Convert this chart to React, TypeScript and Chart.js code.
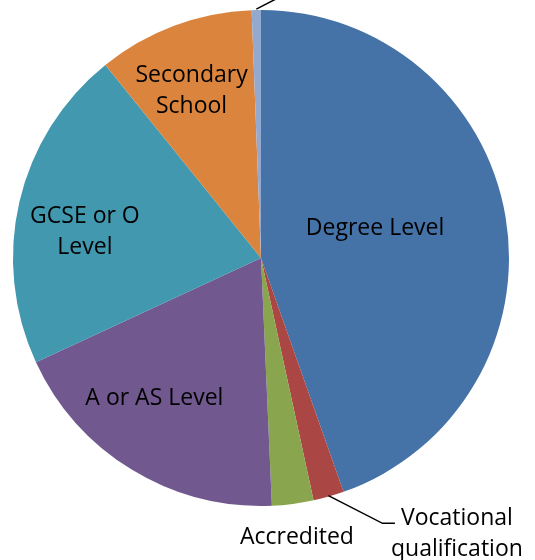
import React, { useEffect, useRef } from "react";
import { Chart, registerables } from "chart.js";

Chart.register(...registerables);

const categories = [
  "Degree Level",
  "Vocational qualification",
  "Accredited",
  "A or AS Level",
  "GCSE or O Level",
  "Secondary School",
  "Other",
];
const values = [44.6, 2.0, 2.7, 18.8, 21.1, 10.2, 0.6];
const colors = ["#4572A7", "#AA4643", "#89A54E", "#71588F", "#4198AF", "#DB843D", "#93A9CF"];

// label text lines per slice (empty = no label shown)
const labelLines: string[][] = [
  ["Degree Level"],
  ["Vocational", "qualification"],
  ["Accredited"],
  ["A or AS Level"],
  ["GCSE or O", "Level"],
  ["Secondary", "School"],
  [],
];

// label layout, in units of the pie radius relative to its centre
const labelLayout = [
  { x: 0.46, y: -0.12 },
  { x: 0.79, y: 1.113 },
  { x: 0.145, y: 1.128 },
  { x: -0.43, y: 0.568 },
  { x: -0.71, y: -0.105 },
  { x: -0.28, y: -0.674 },
  { x: 0, y: 0 },
];

const labelPlugin = {
  id: "sliceLabels",
  afterDatasetsDraw(chart: any) {
    const ctx = chart.ctx;
    const meta = chart.getDatasetMeta(0);
    const arcs = meta.data;
    if (!arcs.length) return;
    const cx = arcs[0].x;
    const cy = arcs[0].y;
    const r = arcs[0].outerRadius;
    ctx.save();
    ctx.fillStyle = "#000";
    ctx.font = '23px "Open Sans", sans-serif';
    ctx.textAlign = "center";
    ctx.textBaseline = "middle";
    const lh = 31.5;
    labelLines.forEach((lines, i) => {
      if (!lines.length) return;
      const lx = cx + labelLayout[i].x * r;
      const ly = cy + labelLayout[i].y * r;
      const start = ly - ((lines.length - 1) * lh) / 2;
      lines.forEach((t, k) => ctx.fillText(t, lx, start + k * lh));
    });
    // leader lines
    ctx.strokeStyle = "#000";
    ctx.lineWidth = 1.5;
    const mid = (a: any) => (a.startAngle + a.endAngle) / 2;
    // vocational
    const v = arcs[1];
    const va = mid(v);
    ctx.beginPath();
    ctx.moveTo(cx + Math.cos(va) * (r - 1), cy + Math.sin(va) * (r - 1));
    ctx.lineTo(cx + 0.49 * r, cy + 1.07 * r);
    ctx.lineTo(cx + 0.54 * r, cy + 1.07 * r);
    ctx.stroke();
    // tiny slice leader going off the top
    const o = arcs[6];
    const oa = mid(o);
    ctx.beginPath();
    ctx.moveTo(cx + Math.cos(oa) * (r + 1), cy + Math.sin(oa) * (r + 1));
    ctx.lineTo(cx + 0.13 * r, cy - 1.08 * r);
    ctx.stroke();
    ctx.restore();
  },
};

export default function App() {
  const ref = useRef<HTMLCanvasElement>(null);
  useEffect(() => {
    if (!ref.current) return;
    const chart = new Chart(ref.current, {
      type: "pie",
      data: {
        labels: categories,
        datasets: [
          {
            data: values,
            backgroundColor: colors,
            borderWidth: 0,
          },
        ],
      },
      options: {
        animation: false,
        responsive: false,
        layout: { padding: { left: 13, right: 26, top: 10, bottom: 54 } },
        plugins: {
          legend: { display: false },
          tooltip: { enabled: false },
        },
      },
      plugins: [labelPlugin],
    });
    return () => chart.destroy();
  }, []);
  return (
    <div style={{ position: "fixed", left: 0, top: 0, width: 535, height: 560, background: "#fff" }}>
      <canvas ref={ref} width={535} height={560} style={{ width: 535, height: 560 }} />
    </div>
  );
}
